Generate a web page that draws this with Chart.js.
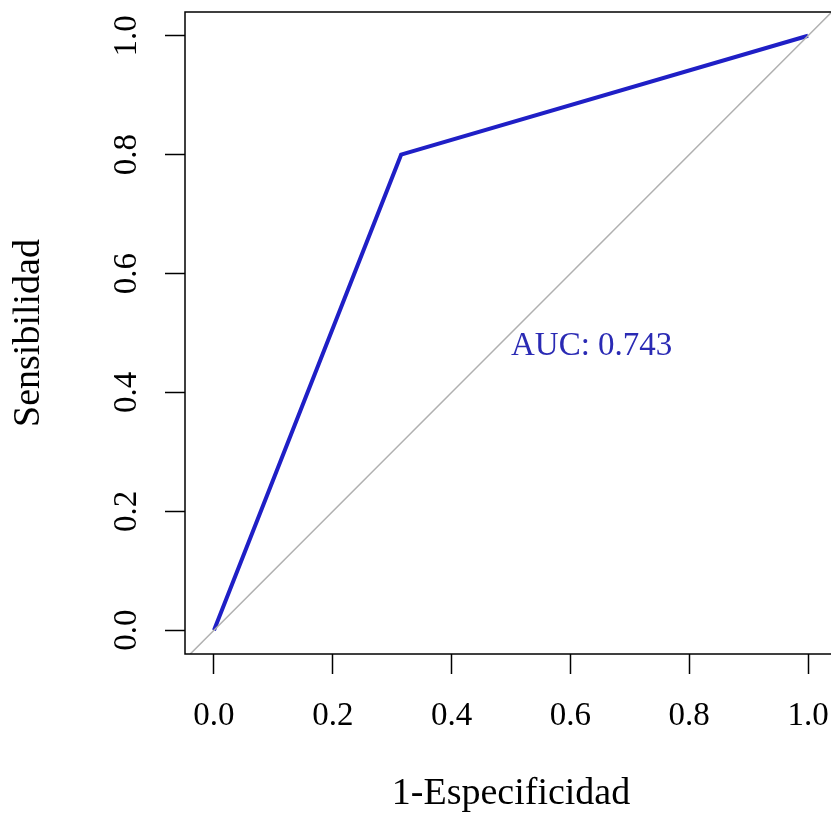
<!DOCTYPE html>
<html>
<head>
<meta charset="utf-8">
<script src="https://cdn.jsdelivr.net/npm/chart.js@4.4.1/dist/chart.umd.min.js"></script>
<style>
  html, body { margin: 0; padding: 0; background: #fff; overflow: hidden; }
</style>
</head>
<body>
<canvas id="roc" width="838" height="822"></canvas>
<script>
// ROC curve points (1-specificity, sensitivity)
const rocX = [0, 0.315, 1];
const rocY = [0, 0.8, 1];
// identity line across the plot
const diagX = [-0.04, 1.04];
const diagY = [-0.04, 1.04];
const tickValues = [0, 0.2, 0.4, 0.6, 0.8, 1.0];
const aucLabel = 'AUC: 0.743';
const aucAt = [0.5, 0.5];

const serif = "'Liberation Serif', 'Times New Roman', serif";
const curveColor = '#1f1fc6';

const boxPlugin = {
  id: 'box',
  afterDatasetsDraw(chart) {
    const { ctx, chartArea: a, scales } = chart;
    ctx.save();
    ctx.strokeStyle = '#000';
    ctx.lineWidth = 1.5;
    ctx.strokeRect(a.left, a.top, a.right - a.left, a.bottom - a.top);

    ctx.font = '33px ' + serif;
    ctx.fillStyle = '#2a2ab4';
    ctx.textAlign = 'left';
    ctx.textBaseline = 'alphabetic';
    const m = ctx.measureText(aucLabel);
    const x = scales.x.getPixelForValue(aucAt[0]);
    const y = scales.y.getPixelForValue(aucAt[1]) + m.actualBoundingBoxAscent;
    ctx.fillText(aucLabel, x, y);
    ctx.restore();
  },
};

function fixedTicks(scale) {
  scale.ticks = tickValues.map(v => ({ value: v }));
}

function noPadding(scale) {
  scale.paddingTop = 0;
  scale.paddingBottom = 0;
  scale.paddingLeft = 0;
  scale.paddingRight = 0;
}

new Chart(document.getElementById('roc').getContext('2d'), {
  type: 'scatter',
  data: {
    datasets: [
      {
        label: 'diagonal',
        data: diagX.map((x, i) => ({ x, y: diagY[i] })),
        showLine: true,
        borderColor: '#b0b0b0',
        borderWidth: 1.5,
        pointRadius: 0,
      },
      {
        label: 'ROC',
        data: rocX.map((x, i) => ({ x, y: rocY[i] })),
        showLine: true,
        borderColor: curveColor,
        borderWidth: 4,
        pointRadius: 0,
        tension: 0,
      },
    ],
  },
  options: {
    responsive: false,
    animation: false,
    events: [],
    layout: { padding: { top: 12, right: 1, left: 0, bottom: 0 } },
    plugins: { legend: { display: false }, tooltip: { enabled: false } },
    scales: {
      x: {
        type: 'linear',
        min: -0.0488,
        max: 1.0488,
        afterBuildTicks: fixedTicks,
        afterFit: scale => { scale.height = 168; noPadding(scale); },
        border: { display: false },
        grid: {
          drawOnChartArea: false,
          drawTicks: true,
          tickLength: 20,
          tickColor: '#000',
          tickWidth: 1.5,
        },
        ticks: {
          color: '#000',
          font: { family: serif, size: 33 },
          padding: 23,
          maxRotation: 0,
          callback: v => v.toFixed(1),
        },
        title: {
          display: true,
          text: '1-Especificidad',
          color: '#000',
          font: { family: serif, size: 38 },
          padding: { top: 0, bottom: 5 },
        },
      },
      y: {
        type: 'linear',
        min: -0.04,
        max: 1.04,
        afterBuildTicks: fixedTicks,
        afterFit: scale => { scale.width = 185; noPadding(scale); },
        border: { display: false },
        grid: {
          drawOnChartArea: false,
          drawTicks: true,
          tickLength: 20,
          tickColor: '#000',
          tickWidth: 1.5,
        },
        ticks: {
          color: '#000',
          font: { family: serif, size: 33 },
          padding: 17,
          minRotation: 90,
          maxRotation: 90,
          crossAlign: 'center',
          callback: v => v.toFixed(1),
        },
        title: {
          display: true,
          text: 'Sensibilidad',
          color: '#000',
          font: { family: serif, size: 38 },
          padding: { top: 6, bottom: 0 },
        },
      },
    },
  },
  plugins: [boxPlugin],
});
</script>
</body>
</html>
